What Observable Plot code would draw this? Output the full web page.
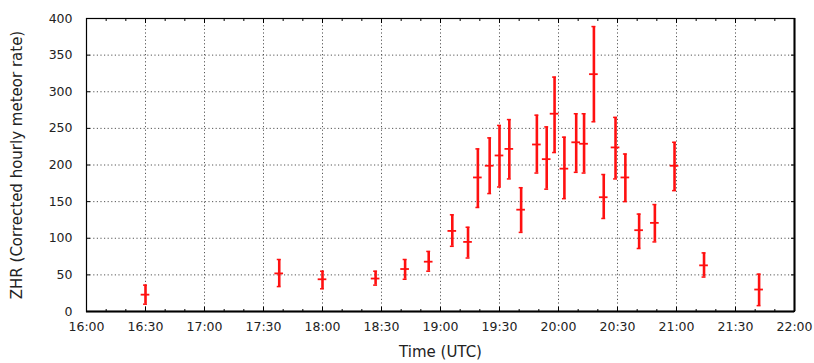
<!DOCTYPE html>
<html><head><meta charset="utf-8">
<script src="https://cdn.jsdelivr.net/npm/d3@7"></script>
<script src="https://cdn.jsdelivr.net/npm/@observablehq/plot@0.6"></script>
<style>
body{margin:0;background:#fff;}
#chart svg{font-family:"DejaVu Sans",sans-serif;}
</style>
</head><body><div id="chart"></div>
<script>
// Observation times (UTC) and ZHR with error range
const times   = ["16:30","17:38","18:00","18:27","18:42","18:54","19:06","19:14","19:19","19:25","19:30","19:35","19:41","19:49","19:54","19:58","20:03","20:09","20:13","20:18","20:23","20:29","20:34","20:41","20:49","20:59","21:14","21:42"];
const zhr     = [23, 52, 44, 45, 58, 68, 110, 95, 183, 199, 213, 222, 139, 228, 208, 270, 195, 231, 229, 324, 156, 224, 183, 111, 121, 199, 63, 30];
const zhrLow  = [10, 34, 31, 36, 44, 55, 89, 73, 142, 161, 170, 181, 108, 189, 167, 217, 154, 190, 189, 259, 127, 181, 150, 86, 95, 165, 47, 8];
const zhrHigh = [36, 71, 55, 55, 71, 82, 132, 115, 222, 237, 254, 262, 169, 268, 252, 320, 238, 270, 270, 389, 187, 265, 215, 133, 146, 231, 80, 51];
const xTickLabels = ["16:00","16:30","17:00","17:30","18:00","18:30","19:00","19:30","20:00","20:30","21:00","21:30","22:00"];
const yTickValues = [0, 50, 100, 150, 200, 250, 300, 350, 400];

const toDate = s => { const [h, m] = s.split(":").map(Number); return new Date(Date.UTC(2000, 0, 1, h, m)); };
const shift = (d, min) => new Date(+d + min * 60000);
const data = times.map((t, i) => ({t: toDate(t), v: zhr[i], lo: zhrLow[i], hi: zhrHigh[i]}));
const xTicks = xTickLabels.map(toDate);
const minorTicks = d3.utcMinute.every(10).range(toDate("16:00"), toDate("22:00"));

const grid = {stroke: "#444", strokeOpacity: 0.9, strokeDasharray: "1.2,2.4", strokeWidth: 1};

const chart = Plot.plot({
  width: 814,
  height: 363,
  marginLeft: 86,
  marginRight: 20,
  marginTop: 18,
  marginBottom: 52,
  style: {fontSize: "12.5px", fontFamily: "DejaVu Sans, sans-serif", color: "#222", background: "#fff"},
  x: {type: "utc", domain: [toDate("16:00"), toDate("22:00")]},
  y: {domain: [0, 400]},
  marks: [
    Plot.gridX(xTicks.slice(1, -1), grid),
    Plot.gridY(yTickValues.slice(1, -1), grid),
    Plot.axisX(minorTicks, {tickSize: -2, tickFormat: () => "", anchor: "bottom", label: null, stroke: "#000"}),
    Plot.axisX(minorTicks, {tickSize: -2, tickFormat: () => "", anchor: "top", label: null, stroke: "#000"}),
    Plot.axisX(xTicks, {tickSize: -4, tickFormat: () => "", anchor: "bottom", label: null, stroke: "#000"}),
    Plot.axisX(xTicks, {tickSize: -4, tickFormat: () => "", anchor: "top", label: null, stroke: "#000"}),
    Plot.axisY(yTickValues, {tickSize: -4, tickFormat: () => "", anchor: "left", label: null, stroke: "#000"}),
    Plot.axisY(yTickValues, {tickSize: -4, tickFormat: () => "", anchor: "right", label: null, stroke: "#000"}),
    Plot.axisX(xTicks, {tickSize: 0, tickPadding: 11, tickFormat: d3.utcFormat("%H:%M"), anchor: "bottom",
      label: "Time (UTC)", labelAnchor: "center", labelArrow: "none", labelOffset: 45, fill: "#222"}),
    Plot.axisY(yTickValues, {tickSize: 0, tickPadding: 14, anchor: "left",
      label: "ZHR (Corrected hourly meteor rate)", labelAnchor: "center", labelArrow: "none", labelOffset: 75, fill: "#222"}),
    Plot.frame({stroke: "#000", strokeWidth: 1.2}),
    Plot.ruleY([0], {stroke: "#000", strokeWidth: 2}),
    Plot.ruleX([toDate("22:00")], {stroke: "#000", strokeWidth: 2}),
    // error bars
    Plot.ruleX(data, {x: "t", y1: "lo", y2: "hi", stroke: "#ff1010", strokeWidth: 2.6}),
    Plot.ruleY(data, {y: "lo", x1: d => shift(d.t, -1), x2: d => shift(d.t, 1), stroke: "#ff1010", strokeWidth: 1.5}),
    Plot.ruleY(data, {y: "hi", x1: d => shift(d.t, -1), x2: d => shift(d.t, 1), stroke: "#ff1010", strokeWidth: 1.5}),
    Plot.ruleY(data, {y: "v", x1: d => shift(d.t, -2.2), x2: d => shift(d.t, 2.2), stroke: "#ff1010", strokeWidth: 1.8})
  ]
});
d3.select(chart).selectAll('[aria-label="x-axis label"] text, [aria-label="y-axis label"] text').style("font-size", "15px");
document.getElementById("chart").appendChild(chart);
</script>
</body></html>
